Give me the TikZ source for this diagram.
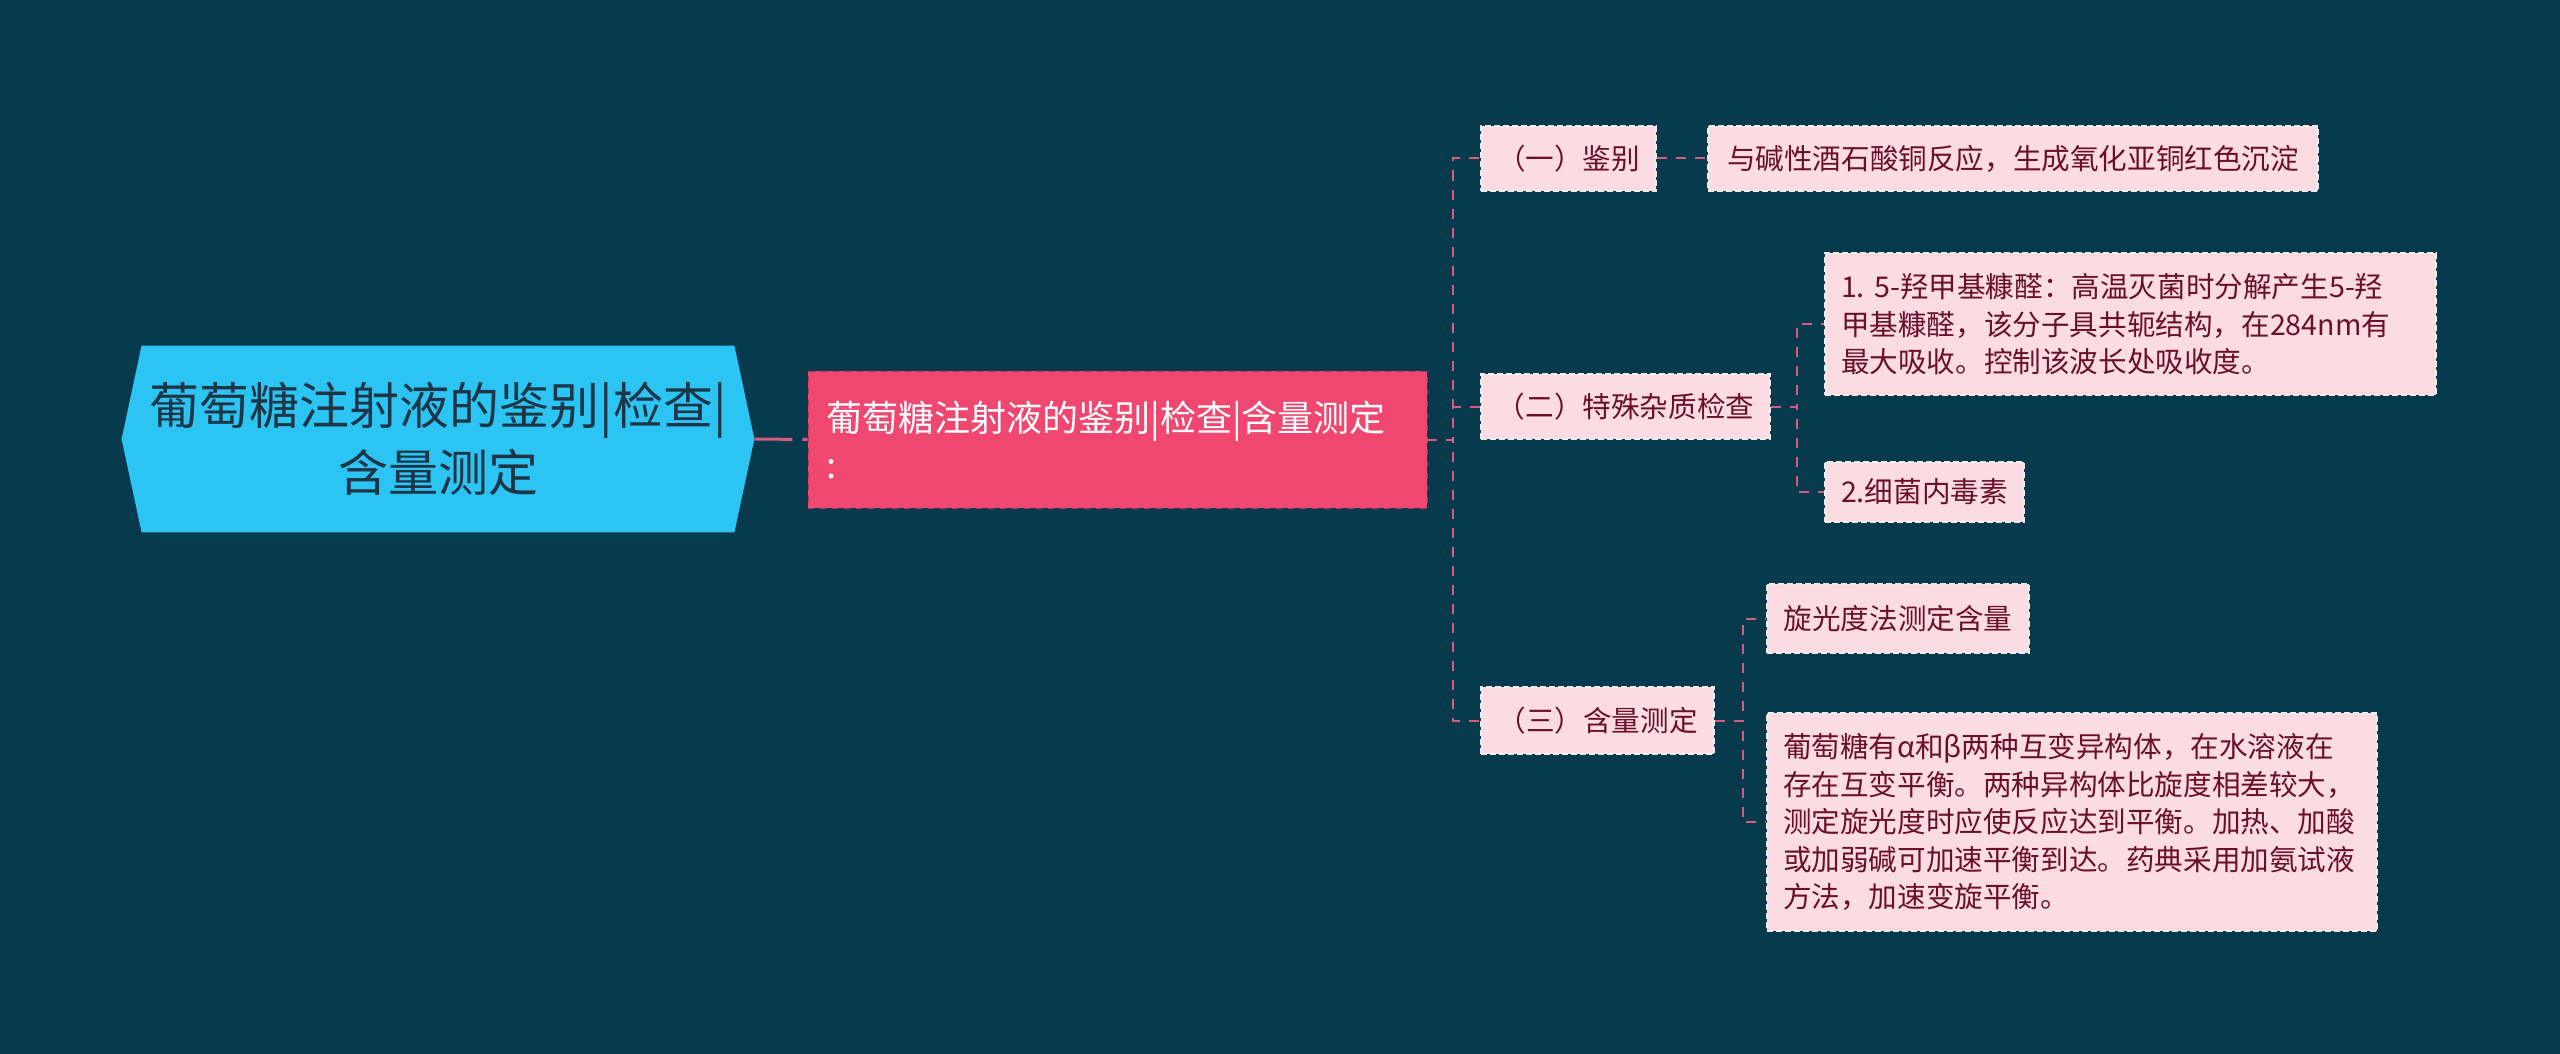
\documentclass[tikz,border=0pt]{standalone}
\usepackage{fontspec}
\setmainfont{Noto Sans CJK SC}
\usepackage{xcolor}
\usetikzlibrary{backgrounds}
\definecolor{deepteal}{HTML}{083A4D}
\definecolor{skycyan}{HTML}{2CC4F3}
\definecolor{rootink}{HTML}{1D3546}
\definecolor{rosered}{HTML}{EF4770}
\definecolor{roseedge}{HTML}{A8355A}
\definecolor{blush}{HTML}{FCDCE3}
\definecolor{maroon}{HTML}{6B0F2E}
\definecolor{linkpink}{HTML}{D45C86}

\begin{document}
\begin{tikzpicture}[x=0.5pt, y=-0.5pt,
  rootbox/.style={minimum width=316pt, minimum height=93pt, inner sep=0pt, align=center, text=rootink, font=\fontsize{25}{33.5}\selectfont},
  mainbox/.style={draw=roseedge, dashed, fill=rosered, text=white, minimum width=309.5pt, minimum height=68.5pt, inner xsep=9pt, text width=291pt, align=left, font=\fontsize{18}{23.5}\selectfont},
  subbox/.style={draw=white!85!gray, line width=0.6pt, dash pattern=on 3pt off 1.5pt, fill=blush, text=maroon, inner sep=0pt, align=left, font=\fontsize{14.3}{18.8}\selectfont\frenchspacing},
  link/.style={draw=linkpink, line width=1pt, dash pattern=on 5pt off 4.5pt},
  rootlink/.style={draw=linkpink, line width=1.5pt, dash pattern=on 19pt off 5pt}
]
  \node[rootbox] (root) at (438,439) {葡萄糖注射液的鉴别|检查|\\含量测定};
  \node[mainbox] (main) at (1117.5,439.5) {葡萄糖注射液的鉴别|检查|含量测定\\:};

  \node[subbox, minimum width=87.5pt, minimum height=32.5pt] (jianbie) at (1568.5,158.5) {（一）鉴别};
  \node[subbox, minimum width=144.5pt, minimum height=32.5pt] (zazhi) at (1625.5,406.5) {（二）特殊杂质检查};
  \node[subbox, minimum width=116.5pt, minimum height=33.5pt] (hanliang) at (1597.5,720.5) {（三）含量测定};

  \node[subbox, minimum width=305pt, minimum height=32.5pt] (fanying) at (2013,158.5) {与碱性酒石酸铜反应，生成氧化亚铜红色沉淀};
  \node[subbox, inner xsep=8pt, text width=289.5pt, minimum height=71pt] (qiangjia) at (2130.5,324) {1.\ 5-羟甲基糠醛：高温灭菌时分解产生5-羟\\甲基糠醛，该分子具共轭结构，在284nm有\\最大吸收。控制该波长处吸收度。};
  \node[subbox, minimum width=99.5pt, minimum height=30pt] (neidusu) at (1924.5,492) {2.细菌内毒素};
  \node[subbox, minimum width=131pt, minimum height=34.5pt] (xuanguang) at (1898,618.5) {旋光度法测定含量};
  \node[subbox, inner xsep=8pt, text width=289pt, minimum height=109pt] (bianxuan) at (2072,822) {葡萄糖有α和β两种互变异构体，在水溶液在\\存在互变平衡。两种异构体比旋度相差较大，\\测定旋光度时应使反应达到平衡。加热、加酸\\或加弱碱可加速平衡到达。药典采用加氨试液\\方法，加速变旋平衡。};

  \begin{scope}[on background layer]
    \fill[deepteal] (0,0) rectangle (2560,1054);
    \fill[skycyan] ([xshift=10pt]root.north west) -- ([xshift=-10pt]root.north east) -- (root.east)
      -- ([xshift=-10pt]root.south east) -- ([xshift=10pt]root.south west) -- (root.west) -- cycle;
  \end{scope}

  \draw[rootlink] (root.east) -- (main.west);
  \draw[link] (main.east) -- ++(26,0) |- (jianbie.west);
  \draw[link] (main.east) -- ++(26,0) |- (zazhi.west);
  \draw[link] (main.east) -- ++(26,0) |- (hanliang.west);
  \draw[link] (jianbie.east) -- (fanying.west);
  \draw[link] (zazhi.east) -- ++(26,0) |- (qiangjia.west);
  \draw[link] (zazhi.east) -- ++(26,0) |- (neidusu.west);
  \draw[link] (hanliang.east) -- ++(28,0) |- (xuanguang.west);
  \draw[link] (hanliang.east) -- ++(28,0) |- (bianxuan.west);
\end{tikzpicture}
\end{document}
